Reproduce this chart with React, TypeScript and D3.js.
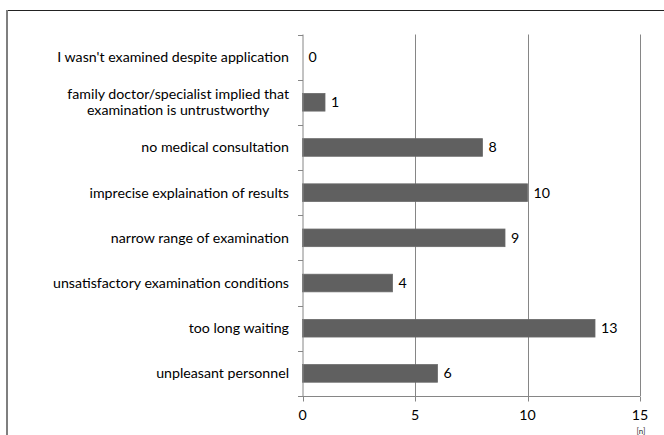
import React, { useEffect, useRef } from "react";
import * as d3 from "d3";

const categories = [
  "I wasn't examined despite application",
  "family doctor/specialist implied that\nexamination is untrustworthy",
  "no medical consultation",
  "imprecise explaination of results",
  "narrow range of examination",
  "unsatisfactory examination conditions",
  "too long waiting",
  "unpleasant personnel",
];
const values = [0, 1, 8, 10, 9, 4, 13, 6];
const xTicks = [0, 5, 10, 15];
const unitLabel = "[n]";

const W = 664;
const H = 435;
const FONT = "Lato, 'Open Sans', sans-serif";
const FS = 14.2;

export default function App() {
  const ref = useRef<SVGSVGElement | null>(null);

  useEffect(() => {
    const svg = d3.select(ref.current);
    svg.selectAll("*").remove();

    const x = d3.scaleLinear().domain([0, 15]).range([302.5, 640]);
    const y = d3
      .scaleBand<string>()
      .domain(categories)
      .range([34.5, 396])
      .paddingInner(0.61)
      .paddingOuter(0.305);
    const step = y.step();
    const top = y.range()[0];
    const bottom = y.range()[1];

    // outer frame
    svg
      .append("line")
      .attr("x1", 6)
      .attr("x2", W)
      .attr("y1", 10.5)
      .attr("y2", 10.5)
      .attr("stroke", "#222")
      .attr("stroke-width", 1);
    svg
      .append("line")
      .attr("x1", 7)
      .attr("x2", 7)
      .attr("y1", 10)
      .attr("y2", H)
      .attr("stroke", "#7f7f7f")
      .attr("stroke-width", 2);

    // gridlines
    svg
      .append("g")
      .selectAll("line")
      .data(xTicks.filter((t) => t > 0))
      .join("line")
      .attr("x1", (d) => Math.round(x(d)) + 0.5)
      .attr("x2", (d) => Math.round(x(d)) + 0.5)
      .attr("y1", top)
      .attr("y2", bottom)
      .attr("stroke", "#868686")
      .attr("stroke-width", 1);

    // bars
    svg
      .append("g")
      .selectAll("rect")
      .data(values)
      .join("rect")
      .attr("x", x(0))
      .attr("y", (_d, i) => y(categories[i])!)
      .attr("width", (d) => x(d) - x(0))
      .attr("height", y.bandwidth())
      .attr("fill", "#606060")
      .attr("stroke", (d) => (d > 0 ? "#6a6a6a" : "none"))
      .attr("stroke-width", 0.8);

    // value labels
    svg
      .append("g")
      .selectAll("text")
      .data(values)
      .join("text")
      .attr("x", (d) => x(d) + 6)
      .attr("y", (_d, i) => y(categories[i])! + y.bandwidth() / 2)
      .attr("dy", "0.35em")
      .attr("font-family", FONT)
      .attr("font-size", FS)
      .attr("fill", "#000")
      .text((d) => String(d));

    // y axis
    const ax0 = Math.round(x(0));
    svg
      .append("line")
      .attr("x1", ax0)
      .attr("x2", ax0)
      .attr("y1", top)
      .attr("y2", bottom)
      .attr("stroke", "#868686");
    svg
      .append("g")
      .selectAll("line")
      .data(d3.range(categories.length + 1))
      .join("line")
      .attr("x1", ax0 - 5)
      .attr("x2", ax0)
      .attr("y1", (i) => Math.round(top + i * step) + 0.5)
      .attr("y2", (i) => Math.round(top + i * step) + 0.5)
      .attr("stroke", "#868686");

    // x axis
    const axY = Math.round(bottom) + 0.5;
    svg
      .append("line")
      .attr("x1", x(0))
      .attr("x2", x(15))
      .attr("y1", axY)
      .attr("y2", axY)
      .attr("stroke", "#868686");
    svg
      .append("g")
      .selectAll("line")
      .data(xTicks)
      .join("line")
      .attr("x1", (d) => Math.round(x(d)) + 0.5)
      .attr("x2", (d) => Math.round(x(d)) + 0.5)
      .attr("y1", axY)
      .attr("y2", axY + 5)
      .attr("stroke", "#868686");
    svg
      .append("g")
      .selectAll("text")
      .data(xTicks)
      .join("text")
      .attr("x", (d) => x(d))
      .attr("y", axY + 19)
      .attr("dy", "0.35em")
      .attr("text-anchor", "middle")
      .attr("font-family", FONT)
      .attr("font-size", FS)
      .attr("fill", "#000")
      .text((d) => String(d));

    svg
      .append("text")
      .attr("x", x(15) + 1)
      .attr("y", 434)
      .attr("text-anchor", "middle")
      .attr("font-family", FONT)
      .attr("font-size", 8)
      .attr("fill", "#333")
      .text(unitLabel);

    // category labels
    const labelRight = 289;
    categories.forEach((c) => {
      const lines = c.split("\n");
      const cy = y(c)! + y.bandwidth() / 2;
      const lh = 16;
      const g = svg.append("g");
      const texts = lines.map((ln, k) =>
        g
          .append("text")
          .attr("y", cy + (k - (lines.length - 1) / 2) * lh)
          .attr("dy", "0.35em")
          .attr("font-family", FONT)
          .attr("font-size", FS)
          .attr("fill", "#000")
          .text(ln)
      );
      const widths = texts.map((t) => (t.node() as SVGTextElement).getComputedTextLength());
      const maxW = Math.max(...widths);
      const cx = labelRight - maxW / 2;
      texts.forEach((t) => t.attr("x", cx).attr("text-anchor", "middle"));
    });
  }, []);

  return (
    <svg
      ref={ref}
      width={W}
      height={H}
      style={{ position: "absolute", left: 0, top: 0, background: "#fff" }}
    />
  );
}
